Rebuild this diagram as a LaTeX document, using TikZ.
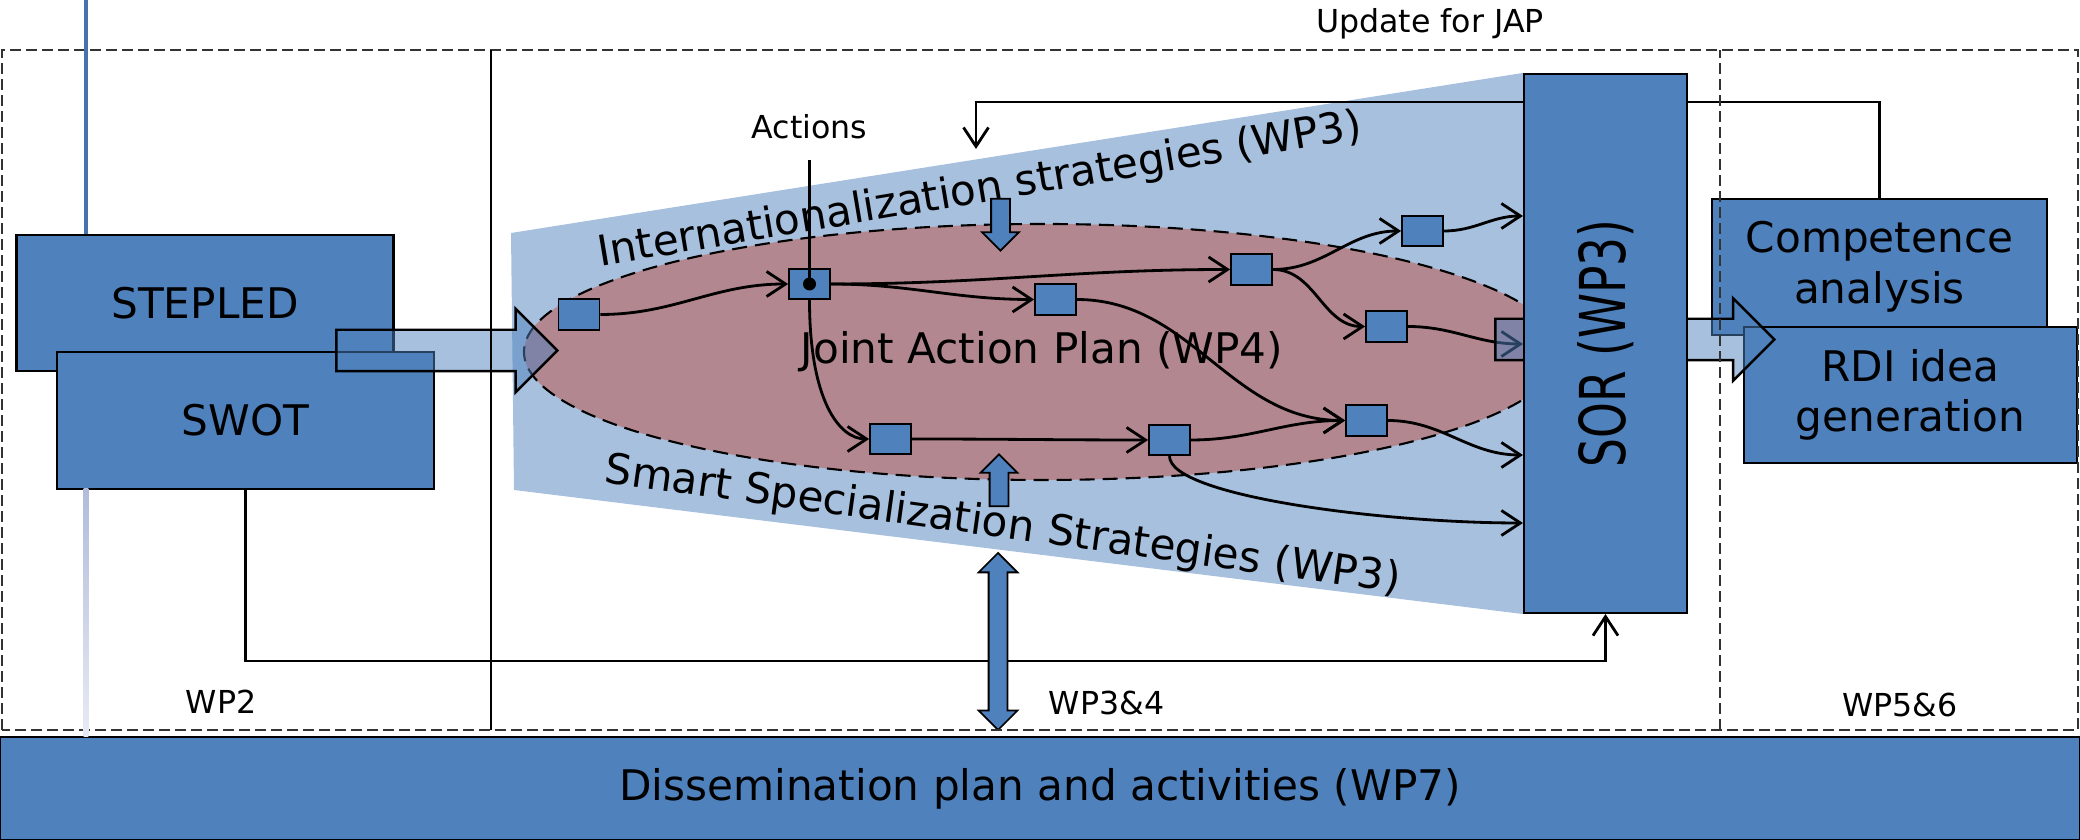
\documentclass[tikz,border=0pt]{standalone}
\usepackage{fontspec}
\setmainfont{DejaVu Sans}
\usepackage{graphicx}
\usetikzlibrary{
  positioning, arrows.meta,
  shapes.geometric, shapes.arrows
}
\pgfdeclarelayer{bg}
\pgfdeclarelayer{fg}
\pgfsetlayers{bg,main,fg}

\definecolor{boxblue}{HTML}{4F81BD}
\definecolor{paleblue}{HTML}{A7C0DE}
\definecolor{mauve}{HTML}{B3878F}
\definecolor{lineblue}{HTML}{4772AD}
\definecolor{fadeblue}{HTML}{B2BCDA}

\begin{document}
\begin{tikzpicture}[
    box/.style={rectangle,draw,line width=0.6pt,fill=boxblue,inner sep=0pt,align=center,font=\fontsize{12}{14.4}\selectfont},
    act/.style={rectangle,draw,line width=0.5pt,fill=boxblue,inner sep=0pt,minimum width=0.41cm,minimum height=0.305cm},
    flow/.style={line width=0.8pt,-{Straight Barb[length=1.9mm,width=2.5mm]}},
    fatarrow/.style={single arrow,draw,line width=0.7pt,fill=boxblue,fill opacity=0.5,inner xsep=0pt,inner ysep=0.195cm,single arrow head extend=0.21cm},
    thinarrow/.style={single arrow,draw,line width=0.5pt,fill=boxblue,inner xsep=0pt,inner ysep=0.085cm,single arrow head extend=0.09cm,minimum height=0.52cm},
    frame/.style={draw=black!80,line width=0.5pt,dash pattern=on 1.1mm off 0.5mm},
    lbl/.style={font=\fontsize{9}{11}\selectfont},
    bigtext/.style={font=\fontsize{12}{14.4}\selectfont}
  ]
  \useasboundingbox (0,0) rectangle (20.8,8.4);

  \begin{pgfonlayer}{fg}
    \node at (16.055,4.965) [box,minimum width=1.63cm,minimum height=5.39cm] (sor) {\rotatebox{90}{\scalebox{0.72}[1]{\fontsize{18}{20}\selectfont SOR (WP3)}}};
  \end{pgfonlayer}
  \begin{pgfonlayer}{bg}
    \fill[paleblue] (5.11,6.07) -- (sor.north west) -- (sor.south west) -- (5.14,3.50) -- cycle;
  \end{pgfonlayer}

  \node at (10.42,4.88) [ellipse,draw,line width=0.6pt,dash pattern=on 1.5mm off 0.8mm,fill=mauve,minimum width=10.36cm,minimum height=2.56cm,bigtext] (jap) {Joint Action Plan (WP4)};

  \node at (18.795,5.73) [box,minimum width=3.35cm,minimum height=1.36cm] (comp) {Competence\\analysis};
  \node at (19.105,4.45) [box,minimum width=3.33cm,minimum height=1.36cm] (rdi) {RDI idea\\generation};
  \node at (2.05,5.37) [box,minimum width=3.77cm,minimum height=1.36cm] (stepled) {STEPLED};
  \node at (2.455,4.195) [box,minimum width=3.77cm,minimum height=1.37cm] (swot) {SWOT};

  \coordinate (japtop) at (9.76,6.91);
  \draw[flow] (comp.north) |- (japtop |- 0,7.38) -- (japtop);
  \draw[flow] (swot.south) |- (sor.south |- 0,1.79) -- (sor.south);

  \node at (4.365,4.895) [fatarrow,minimum height=2.21cm] (tojap) {};

  \node at (9.80,6.49) [bigtext,rotate=9.5] (intl) {Internationalization strategies (WP3)};
  \node at (10.025,3.14) [bigtext,rotate=-7.9] (smart) {Smart Specialization Strategies (WP3)};

  \node at (5.79,5.255) [act] (a1) {};
  \node at (8.095,5.56) [act] (a2) {};
  \node at (10.555,5.405) [act] (a3) {};
  \node at (12.515,5.705) [act] (a4) {};
  \node at (14.225,6.09) [act] (a5) {};
  \node at (13.865,5.135) [act] (a6) {};
  \node at (8.905,4.01) [act] (a7) {};
  \node at (11.695,4.00) [act] (a8) {};
  \node at (13.665,4.195) [act] (a9) {};

  \draw[flow] (a1.east) to[out=0,in=180] (a2.west);
  \draw[flow] (a2.east) to[out=0,in=180] (a4.west);
  \draw[flow] (a2.east) to[out=0,in=180] (a3.west);
  \draw[flow] (a2.south) to[out=-90,in=180,out distance=1cm,in distance=0.3cm] (a7.west);
  \draw[flow] (a4.east) to[out=0,in=180] (a5.west);
  \draw[flow] (a4.east) to[out=0,in=180] (a6.west);
  \draw[flow] (a3.east) to[out=0,in=180] (a9.west);
  \draw[flow] (a7.east) to[out=0,in=180] (a8.west);
  \draw[flow] (a8.east) to[out=0,in=180] (a9.west);
  \draw[flow] (a5.east) to[out=0,in=180] (sor.west |- 0,6.24);
  \draw[flow] (a6.east) to[out=0,in=180] (sor.west |- 0,4.96);
  \draw[flow] (a9.east) to[out=0,in=180] (sor.west |- 0,3.85);
  \draw[flow] (a8.south) to[out=-90,in=180,out distance=0.4cm,in distance=1.4cm] (sor.west |- 0,3.17);

  \node at (8.095,7.13) [lbl] (actions) {Actions};
  \draw[line width=0.8pt,shorten <=0.08cm] (actions.south) -- (a2.center);
  \fill (a2.center) circle (0.065);

  \node at (10.005,6.20) [thinarrow,rotate=-90] (intdown) {};
  \node at (9.99,3.55) [thinarrow,rotate=90] (smartup) {};
  \node at (9.98,1.985) [double arrow,draw,line width=0.5pt,fill=boxblue,inner xsep=0pt,inner ysep=0.085cm,double arrow head extend=0.1cm,minimum height=1.77cm,rotate=90] (wplink) {};

  \node at (16.245,5.005) [fatarrow,minimum height=2.79cm,single arrow head extend=0.205cm] (toideas) {};

  \node at (10.4,0.515) [box,minimum width=20.8cm,minimum height=1.03cm] (dissbox) {Dissemination plan and activities (WP7)};

  \draw[frame] (0.02,1.10) rectangle (20.78,7.90);
  \draw[line width=0.4pt] (4.91,1.10) -- (4.91,7.90);
  \draw[frame] (17.20,1.10) -- (17.20,7.90);

  \draw[lineblue,line width=1.3pt] (0.86,8.4) -- (0.86,8.4 |- stepled.north);
  \shade[top color=fadeblue,bottom color=fadeblue!30] (0.835,1.03) rectangle (0.885,3.51);

  \node at (14.30,8.16) [lbl] (upd) {Update for JAP};
  \node at (2.21,1.385) [lbl] (wp2) {WP2};
  \node at (11.065,1.375) [lbl] (wp34) {WP3\&4};
  \node at (19.0,1.35) [lbl] (wp56) {WP5\&6};
\end{tikzpicture}
\end{document}
